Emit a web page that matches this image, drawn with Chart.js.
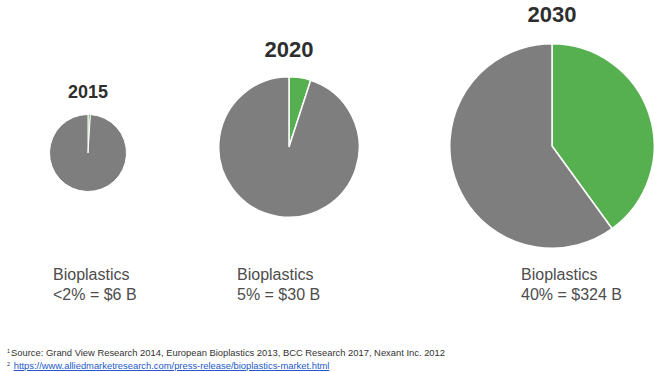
<!DOCTYPE html>
<html>
<head>
<meta charset="utf-8">
<script src="https://cdn.jsdelivr.net/npm/chart.js@4.4.0/dist/chart.umd.min.js"></script>
<style>
  body { margin: 0; background: #fff; font-family: "Liberation Sans", Arial, sans-serif; }
  #wrap { position: relative; width: 654px; height: 372px; overflow: hidden; }
  .pie { position: absolute; }
  .year { position: absolute; font-weight: bold; color: #2e2e2e; transform: translate(-50%, -50%); white-space: nowrap; }
  .cap { position: absolute; font-size: 16px; line-height: 20px; color: #4d4d4d; white-space: nowrap; }
  .note { position: absolute; left: 7px; font-size: 9.4px; color: #333; white-space: nowrap; }
  .note sup { font-size: 5.5px; vertical-align: 3px; margin-right: 1px; }
  .note a { color: #2458c8; text-decoration: underline; }
</style>
</head>
<body>
<div id="wrap"></div>
<script>
const years = ['2015', '2020', '2030'];
const sliceNames = ['Bioplastics', 'Other plastics'];
const bioShare = [1, 5, 40];
const otherShare = [99, 95, 60];
const captions = ['<2% = $6 B', '5% = $30 B', '40% = $324 B'];
const sources = 'Source: Grand View Research 2014, European Bioplastics 2013, BCC Research 2017, Nexant Inc. 2012';
const link = 'https://www.alliedmarketresearch.com/press-release/bioplastics-market.html';

// where each pie sits on the page
const layout = [
  { cx: 88, cy: 153, r: 38, titleY: 92, titleSize: 18, capX: 53, border: 1 },
  { cx: 289, cy: 147, r: 70, titleY: 50, titleSize: 22, capX: 237, border: 1.5 },
  { cx: 552, cy: 146, r: 102, titleY: 15, titleSize: 22, capX: 521, border: 1.5 }
];

const wrap = document.getElementById('wrap');

years.forEach((year, i) => {
  const L = layout[i];
  const size = 2 * L.r + 2;

  const canvas = document.createElement('canvas');
  canvas.className = 'pie';
  canvas.width = size;
  canvas.height = size;
  canvas.style.left = (L.cx - size / 2) + 'px';
  canvas.style.top = (L.cy - size / 2) + 'px';
  wrap.appendChild(canvas);

  new Chart(canvas.getContext('2d'), {
    type: 'pie',
    data: {
      labels: sliceNames,
      datasets: [{
        data: [bioShare[i], otherShare[i]],
        backgroundColor: ['#56b04f', '#7e7e7e'],
        borderColor: '#ffffff',
        borderWidth: L.border
      }]
    },
    options: {
      responsive: false,
      animation: false,
      layout: { padding: 0 },
      plugins: { legend: { display: false }, tooltip: { enabled: false } }
    }
  });

  const t = document.createElement('div');
  t.className = 'year';
  t.style.left = L.cx + 'px';
  t.style.top = L.titleY + 'px';
  t.style.fontSize = L.titleSize + 'px';
  t.textContent = year;
  wrap.appendChild(t);

  const c = document.createElement('div');
  c.className = 'cap';
  c.style.left = L.capX + 'px';
  c.style.top = '265px';
  c.innerHTML = 'Bioplastics<br>';
  c.appendChild(document.createTextNode(captions[i]));
  wrap.appendChild(c);
});

const n1 = document.createElement('div');
n1.className = 'note';
n1.style.top = '347px';
n1.innerHTML = '<sup>1</sup>';
n1.appendChild(document.createTextNode(sources));
wrap.appendChild(n1);

const n2 = document.createElement('div');
n2.className = 'note';
n2.style.top = '360px';
n2.innerHTML = '<sup>2</sup> <a href="#"></a>';
n2.querySelector('a').textContent = link;
wrap.appendChild(n2);
</script>
</body>
</html>
